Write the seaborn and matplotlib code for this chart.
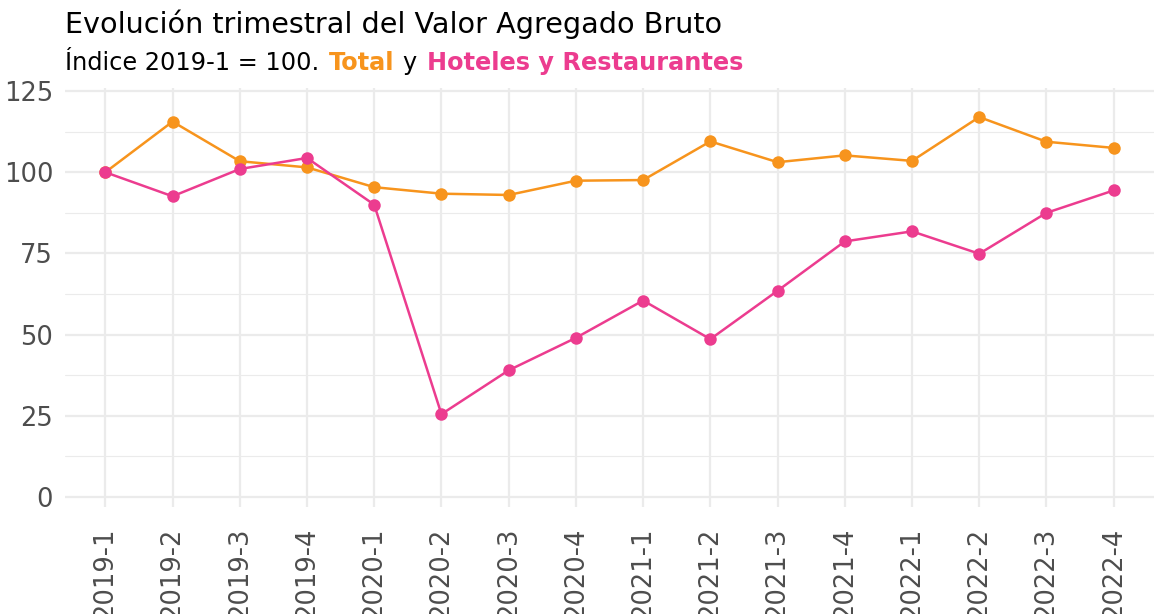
import matplotlib
matplotlib.use("Agg")
import matplotlib.pyplot as plt
from matplotlib.ticker import MultipleLocator
import seaborn as sns
import pandas as pd

trimestres = ["2019-1", "2019-2", "2019-3", "2019-4",
              "2020-1", "2020-2", "2020-3", "2020-4",
              "2021-1", "2021-2", "2021-3", "2021-4",
              "2022-1", "2022-2", "2022-3", "2022-4"]
total = [100.0, 115.6, 103.4, 101.5, 95.4, 93.4, 93.0, 97.4,
         97.6, 109.5, 103.1, 105.2, 103.5, 117.0, 109.4, 107.5]
hoteles = [100.0, 92.6, 101.0, 104.4, 90.0, 25.5, 39.0, 49.0,
           60.5, 48.6, 63.5, 78.7, 81.8, 74.9, 87.5, 94.4]
series = ["Total", "Hoteles y Restaurantes"]
colores = {"Total": "#F7941D", "Hoteles y Restaurantes": "#EC3C8F"}

df = pd.DataFrame({
    "trimestre": trimestres * 2,
    "valor": total + hoteles,
    "serie": [series[0]] * len(trimestres) + [series[1]] * len(trimestres),
})

sns.set_theme(style="whitegrid")
plt.rcParams["font.family"] = ["DejaVu Sans"]

fig = plt.figure(figsize=(11.54, 6.14), dpi=100)
ax = fig.add_axes([65 / 1154, 1 - 507 / 614, 1 - 65 / 1154, (507 - 88) / 614])

sns.lineplot(data=df, x="trimestre", y="valor", hue="serie", palette=colores,
             hue_order=series, sort=False, marker="o", markersize=9,
             markeredgewidth=0, linewidth=1.8, legend=False, ax=ax)

ax.set_xlim(-0.6, 15.6)
ax.set_ylim(-3.1, 125.95)
ax.yaxis.set_major_locator(MultipleLocator(25))
ax.yaxis.set_minor_locator(MultipleLocator(12.5))
ax.set_xticks(range(len(trimestres)))
ax.set_xticklabels(trimestres, rotation=90, va="top", ha="center")
ax.set_xlabel("")
ax.set_ylabel("")
for s in ax.spines.values():
    s.set_visible(False)
ax.set_facecolor("white")
ax.grid(True, which="major", color="#EBEBEB", linewidth=1.6)
ax.grid(True, which="minor", axis="y", color="#EBEBEB", linewidth=0.8)
ax.grid(False, which="minor", axis="x")
ax.tick_params(axis="both", which="both", length=0, labelsize=18.5, labelcolor="#4D4D4D")
ax.tick_params(axis="x", pad=15)
ax.tick_params(axis="y", pad=8.5)

# Title and multi-coloured subtitle
fig.text(65 / 1154, 1 - 33 / 614, "Evolución trimestral del Valor Agregado Bruto",
         fontsize=20.6, color="black", ha="left", va="baseline")
t1 = fig.text(65 / 1154, 1 - 70 / 614, "Índice 2019-1 = 100.", fontsize=17.3,
              color="black", ha="left", va="baseline")
t2 = ax.annotate("Total", xy=(1, 0), xycoords=t1, xytext=(7, 0), textcoords="offset points",
                 fontsize=17.3, fontweight="bold", color=colores["Total"],
                 ha="left", va="bottom", annotation_clip=False)
t3 = ax.annotate("y", xy=(1, 0), xycoords=t2, xytext=(6, 0), textcoords="offset points",
                 fontsize=17.3, color="black", ha="left", va="bottom", annotation_clip=False)
t4 = ax.annotate("Hoteles y Restaurantes", xy=(1, 0), xycoords=t3, xytext=(7, 0),
                 textcoords="offset points", fontsize=17.3, fontweight="bold",
                 color=colores["Hoteles y Restaurantes"], ha="left", va="bottom",
                 annotation_clip=False)

fig.savefig("out.png", dpi=100, facecolor="white")
